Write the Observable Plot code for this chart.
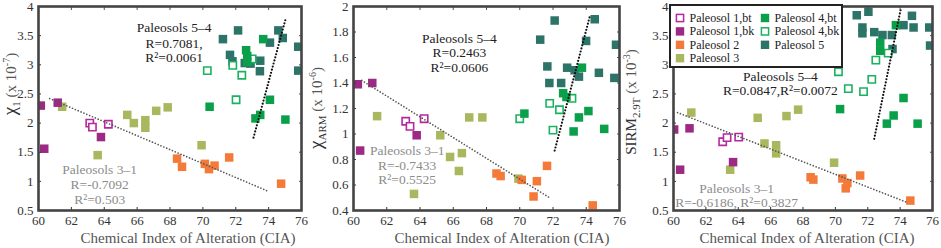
<!DOCTYPE html>
<html><head><meta charset="utf-8">
<script src="https://cdn.jsdelivr.net/npm/d3@7"></script>
<script src="https://cdn.jsdelivr.net/npm/@observablehq/plot@0.6"></script>
<style>
html,body{margin:0;padding:0;background:#fff;}
#wrap{position:relative;width:941px;height:248px;overflow:hidden;font-family:"Liberation Serif","Times New Roman","DejaVu Serif",serif;}
#wrap svg{position:absolute;top:0;overflow:visible;}
#wrap text{font-family:"Liberation Serif","Times New Roman","DejaVu Serif",serif;}
</style></head><body><div id="wrap"></div>
<script>
// ---------- categories ----------
const seriesNames = ["Paleosol 1,bt","Paleosol 1,bk","Paleosol 2","Paleosol 3","Paleosol 4,bt","Paleosol 4,bk","Paleosol 5"];
const seriesColors = ["#b5299f","#9c2a85","#f47a3a","#a9b85e","#09a049","#1ab260","#2d7468"];
const seriesOpen = [true,false,false,false,false,true,false];
const drawOrder = ["Paleosol 5","Paleosol 4,bk","Paleosol 4,bt","Paleosol 3","Paleosol 2","Paleosol 1,bk","Paleosol 1,bt"];
const xTicks = [60,62,64,66,68,70,72,74,76];
const yTicksChi = [0.5,1,1.5,2,2.5,3,3.5,4];
const yTicksArm = [0.4,0.6,0.8,1,1.2,1.4,1.6,1.8,2];
const yTicksSirm = [0.5,1,1.5,2,2.5,3,3.5,4];

// ---------- panel 1: chi (CIA, value) ----------
const chiP1bt = [[63.12,2.0],[63.28,1.93],[64.25,1.98]];
const chiP1bk = [[60.14,2.30],[61.17,2.35],[60.35,1.56],[63.8,1.76]];
const chiP2 = [[68.43,1.39],[68.73,1.25],[70.12,1.30],[70.37,1.21],[70.71,1.27],[71.6,1.41],[74.76,0.96]];
const chiP3 = [[61.44,2.28],[63.6,1.45],[65.4,2.14],[65.8,2.0],[66.5,2.05],[66.5,1.92],[67.16,2.21],[67.86,2.27],[69.92,1.62]];
const chiP4bt = [[72.63,3.25],[72.7,3.15],[72.7,3.05],[73.67,3.44],[74.08,2.40],[70.41,2.28],[73.2,2.08],[73.49,2.14],[75.02,2.06]];
const chiP4bk = [[70.27,2.90],[71.82,2.99],[72.37,2.82],[72.02,2.40],[73.0,3.1]];
const chiP5 = [[72.14,3.59],[71.22,3.44],[71.65,3.17],[71.8,3.06],[72.55,3.03],[72.9,3.02],[73.49,3.07],[73.47,2.89],[74.08,3.38],[74.59,3.59],[74.86,3.46],[75.8,3.31],[75.8,2.90]];
const chiTrend31 = [[60.68,2.42],[73.98,0.83]];
const chiTrend54 = [[73.08,1.75],[75.02,3.77]];
const chiNote54 = [[68.25,3.63,"Paleosols 5–4"],[68.25,3.37,"R=0.7081,"],[68.25,3.13,"R²=0.0061"]];
const chiNote31 = [[63.72,1.20,"Paleosols 3–1"],[63.72,0.95,"R=-0.7092"],[63.72,0.69,"R²=0.503"]];

// ---------- panel 2: chi ARM ----------
const armP1bt = [[63.14,1.10],[63.4,1.06],[64.25,1.12]];
const armP1bk = [[60.26,1.39],[61.13,1.40],[60.4,0.87],[63.8,0.99]];
const armP2 = [[68.6,0.69],[68.85,0.67],[70.12,0.64],[71.03,0.63],[71.64,0.75],[70.83,0.51],[74.39,0.44]];
const armP3 = [[61.42,1.14],[65.22,0.99],[65.81,0.82],[66.52,0.85],[66.34,0.71],[63.64,0.53],[66.96,1.13],[67.75,1.13],[69.92,0.65]];
const armP4bt = [[73.74,1.52],[72.61,1.32],[72.81,1.29],[74.13,1.18],[73.56,1.13],[70.28,1.16],[73.24,1.02],[75.08,1.04]];
const armP4bk = [[70.0,1.12],[71.8,1.24],[72.39,1.19],[73.14,1.28],[72.0,1.03]];
const armP5 = [[72.1,1.89],[74.51,1.90],[71.23,1.74],[73.99,1.73],[75.79,1.70],[71.66,1.53],[72.85,1.52],[73.3,1.50],[73.56,1.45],[74.76,1.48],[75.69,1.44],[71.78,1.40],[72.49,1.40]];
const armTrend31 = [[60.5,1.42],[71.8,0.50]];
const armTrend54 = [[72.1,0.87],[74.23,1.93]];
const armNote54 = [[66.37,1.75,"Paleosols 5–4"],[66.37,1.64,"R=0.2463"],[66.37,1.52,"R²=0.0606"]];
const armNote31 = [[63.23,0.87,"Paleosols 3–1"],[63.23,0.75,"R=-0.7433"],[63.23,0.64,"R²=0.5525"]];

// ---------- panel 3: SIRM 2.9T ----------
const sirmP1bt = [[63.04,1.68],[63.31,1.75],[64.03,1.76]];
const sirmP1bk = [[60.04,1.89],[60.99,1.91],[60.41,1.20],[63.68,1.33]];
const sirmP2 = [[68.47,1.07],[68.64,1.03],[70.43,1.05],[70.74,0.97],[70.64,0.88],[71.53,1.10],[74.63,0.67]];
const sirmP3 = [[61.1,2.18],[63.5,1.20],[65.2,2.09],[65.62,1.65],[66.34,1.62],[66.34,1.48],[66.98,2.12],[67.7,2.23],[69.92,1.32]];
const sirmP4bt = [[70.29,2.24],[74.21,2.43],[73.6,2.13],[73.18,1.99],[75.08,1.99],[72.77,3.38],[72.77,3.24],[73.74,3.68]];
const sirmP4bk = [[70.19,2.88],[72.5,3.08],[72.25,2.75],[70.8,2.59],[71.74,2.54],[73.26,3.20]];
const sirmP5 = [[71.32,3.85],[72.04,3.91],[71.67,3.64],[71.67,3.54],[72.4,3.56],[72.91,3.51],[73.49,3.51],[73.53,3.27],[74.21,3.68],[74.73,3.84],[74.83,3.64],[75.8,3.64],[75.85,3.33]];
const sirmTrend31 = [[60.25,2.18],[74.42,0.64]];
const sirmTrend54 = [[72.4,1.73],[74.05,3.97]];
const sirmNote54 = [[66.6,2.79,"Paleosols 5–4"],[66.6,2.55,"R=0.0847,R²=0.0072"]];
const sirmNote31 = [[63.9,0.88,"Paleosols 3–1"],[63.9,0.63,"R=-0.6186, R²=0.3827"]];

// ---------- helpers ----------
const FONT = "'Liberation Serif','Times New Roman','DejaVu Serif',serif";
const colorOf = Object.fromEntries(seriesNames.map((s,i)=>[s,seriesColors[i]]));
const openOf = Object.fromEntries(seriesNames.map((s,i)=>[s,seriesOpen[i]]));

function rowsFrom(arrs){
  const rows=[];
  drawOrder.forEach(s=>{
    arrs[seriesNames.indexOf(s)].forEach(([cia,v])=>rows.push({series:s,cia,value:v}));
  });
  return rows;
}

const wrap = d3.select("#wrap");

function panel(cfg){
  const rows = rowsFrom(cfg.arrs);
  const marks = [];
  for (const s of drawOrder){
    const d = rows.filter(r=>r.series===s);
    if (openOf[s]) marks.push(Plot.dot(d,{x:"cia",y:"value",symbol:"square",r:4.1,fill:"white",stroke:colorOf[s],strokeWidth:1.6,clip:true}));
    else marks.push(Plot.dot(d,{x:"cia",y:"value",symbol:"square",r:4.8,fill:colorOf[s],clip:true}));
  }
  marks.push(Plot.line(cfg.t31,{x:d=>d[0],y:d=>d[1],stroke:"#555",strokeWidth:1.7,strokeLinecap:"round",strokeDasharray:"0,3.1"}));
  marks.push(Plot.line(cfg.t54,{x:d=>d[0],y:d=>d[1],stroke:"#111",strokeWidth:2.2,strokeLinecap:"round",strokeDasharray:"0,3.2"}));
  marks.push(Plot.text(cfg.n54,{x:d=>d[0],y:d=>d[1],text:d=>d[2],fontSize:13.5,fill:"#222"}));
  marks.push(Plot.text(cfg.n31,{x:d=>d[0],y:d=>d[1],text:d=>d[2],fontSize:13.5,fill:"#8c8c8c"}));
  marks.push(Plot.axisX({anchor:"bottom",ticks:xTicks,tickSize:-3,tickPadding:8,label:null,fontSize:13,color:"#333"}));
  marks.push(Plot.axisX({anchor:"top",ticks:xTicks,tickSize:-3,tickFormat:()=>"",label:null,color:"#555"}));
  marks.push(Plot.axisY({anchor:"left",ticks:cfg.yTicks,tickSize:-3,tickPadding:8,tickFormat:d=>String(d),label:null,fontSize:13,color:"#333"}));
  marks.push(Plot.axisY({anchor:"right",ticks:cfg.yTicks,tickSize:-3,tickFormat:()=>"",label:null,color:"#555"}));
  marks.push(Plot.frame({stroke:"#444",strokeWidth:2.6}));
  const svg = Plot.plot({
    width:cfg.width,height:248,
    marginLeft:cfg.ml,marginRight:cfg.mr,marginTop:6,marginBottom:38,
    x:{domain:[60,76]},y:{domain:cfg.yDomain},
    style:{fontFamily:FONT,background:"transparent",overflow:"visible"},
    marks
  });
  svg.style.left = cfg.left+"px";
  wrap.node().appendChild(svg);
  const s = d3.select(svg);
  // x axis title
  s.append("text").attr("x",cfg.xlx).attr("y",243).attr("text-anchor","middle")
    .style("font-family",FONT).attr("font-size",15).attr("fill","#555")
    .text("Chemical Index of Alteration (CIA)");
  // y axis title with sub/superscript
  const t = s.append("text").attr("transform",`translate(${cfg.ylx},${cfg.yly}) rotate(-90)`)
    .attr("text-anchor","middle").style("font-family",FONT).attr("font-size",15).attr("fill","#333");
  t.append("tspan").attr("font-size",cfg.main==="χ"?19:15).text(cfg.main);
  t.append("tspan").attr("font-size",11).attr("dy",4).text(cfg.sub);
  t.append("tspan").attr("dy",-4).attr("fill","#555").text(" (x 10");
  t.append("tspan").attr("font-size",10).attr("dy",-6).attr("fill","#555").text(cfg.sup);
  t.append("tspan").attr("dy",6).attr("fill","#555").text(")");
  return svg;
}

panel({left:0,width:305,ml:38,mr:4,yDomain:[0.5,4],yTicks:yTicksChi,
  arrs:[chiP1bt,chiP1bk,chiP2,chiP3,chiP4bt,chiP4bk,chiP5],
  t31:chiTrend31,t54:chiTrend54,n54:chiNote54,n31:chiNote31,
  xlx:188,ylx:16,yly:84,main:"χ",sub:"1",sup:"-7"});
panel({left:306,width:316,ml:47,mr:3,yDomain:[0.4,2],yTicks:yTicksArm,
  arrs:[armP1bt,armP1bk,armP2,armP3,armP4bt,armP4bk,armP5],
  t31:armTrend31,t54:armTrend54,n54:armNote54,n31:armNote31,
  xlx:196,ylx:16,yly:108,main:"χ",sub:"ARM",sup:"-6"});
panel({left:622,width:319,ml:51,mr:9,yDomain:[0.5,4],yTicks:yTicksSirm,
  arrs:[sirmP1bt,sirmP1bk,sirmP2,sirmP3,sirmP4bt,sirmP4bk,sirmP5],
  t31:sirmTrend31,t54:sirmTrend54,n54:sirmNote54,n31:sirmNote31,
  xlx:185,ylx:14,yly:102,main:"SIRM",sub:"2.9T",sup:"-3"});

// ---------- legend ----------
const legendLayout = [[0,0],[0,1],[0,2],[0,3],[1,0],[1,1],[1,2]];
const lg = wrap.append("svg").attr("width",174).attr("height",64)
  .style("left","669px").style("top","4px");
lg.append("rect").attr("x",1).attr("y",1).attr("width",172).attr("height",62)
  .attr("fill","white").attr("stroke","#222").attr("stroke-width",2);
seriesNames.forEach((s,i)=>{
  const [c,r] = legendLayout[i];
  const cx = c===0 ? 11 : 96, cy = 14 + r*13.4;
  if (seriesOpen[i]) lg.append("rect").attr("x",cx-3.6).attr("y",cy-3.6).attr("width",7.2).attr("height",7.2)
      .attr("fill","white").attr("stroke",seriesColors[i]).attr("stroke-width",1.5);
  else lg.append("rect").attr("x",cx-4.2).attr("y",cy-4.2).attr("width",8.4).attr("height",8.4).attr("fill",seriesColors[i]);
  lg.append("text").attr("x",cx+9.5).attr("y",cy+4).style("font-family",FONT).attr("font-size",12)
    .attr("fill","#222").text(s);
});
</script></body></html>
